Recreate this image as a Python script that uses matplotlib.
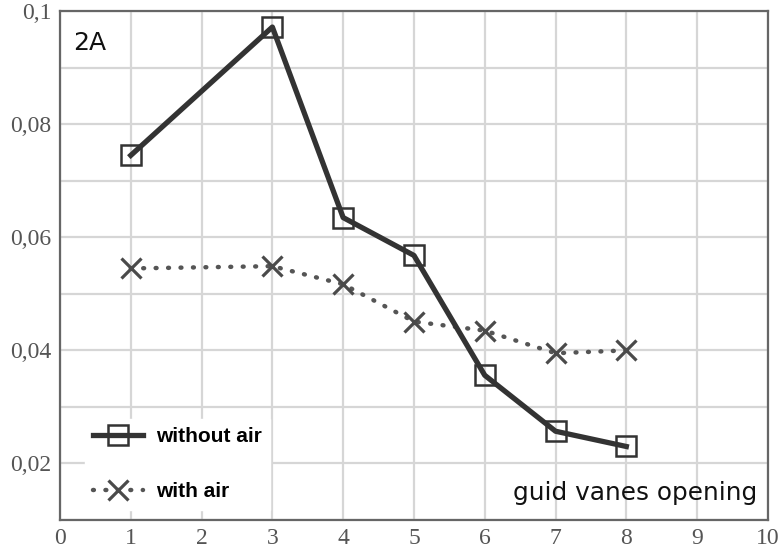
import matplotlib
matplotlib.use("Agg")
import matplotlib.pyplot as plt
from matplotlib.ticker import MultipleLocator, FuncFormatter

# guide vanes opening positions
x = [1, 3, 4, 5, 6, 7, 8]
without_air = [0.0745, 0.0972, 0.0635, 0.0568, 0.0356, 0.0257, 0.0230]
with_air = [0.0545, 0.0549, 0.0517, 0.0451, 0.0435, 0.0395, 0.0400]

fig = plt.figure(figsize=(7.82, 5.53), dpi=100)
ax = fig.add_axes([0.0767, 0.0597, 0.9053, 0.920])

ax.plot(x, with_air, color="#555555", lw=3.2, linestyle=(0, (0.2, 2.6)),
        dash_capstyle="round", marker="x", ms=15, mew=2.3, mec="#4a4a4a",
        label="with air", zorder=3)
ax.plot(x, without_air, color="#333333", lw=3.8, marker="s", ms=14.5,
        mfc="none", mec="#333333", mew=1.8, label="without air", zorder=4)

ax.set_xlim(0, 10)
ax.set_ylim(0.01, 0.1)
ax.xaxis.set_major_locator(MultipleLocator(1))
ax.yaxis.set_major_locator(MultipleLocator(0.02))
ax.yaxis.set_minor_locator(MultipleLocator(0.01))
ax.yaxis.set_major_formatter(FuncFormatter(lambda v, p: ("%g" % round(v, 3)).replace(".", ",")))
ax.grid(True, which="both", color="#d6d6d6", lw=1.6)
ax.set_axisbelow(True)
ax.tick_params(which="both", length=0, labelsize=17, colors="#555555", pad=6)
for lab in ax.get_xticklabels() + ax.get_yticklabels():
    lab.set_family("Liberation Serif")
for s in ax.spines.values():
    s.set_color("#666666")
    s.set_linewidth(1.6)

ax.text(0.018, 0.962, "2A", transform=ax.transAxes, fontsize=18,
        family="DejaVu Sans", va="top", ha="left", color="#111111")
ax.text(0.985, 0.04, "guid vanes opening", transform=ax.transAxes,
        fontsize=17.8, family="DejaVu Sans", va="baseline", ha="right",
        color="#111111")

h, l = ax.get_legend_handles_labels()
leg = ax.legend(h[::-1], l[::-1], loc="lower left", bbox_to_anchor=(0.035, 0.02),
                frameon=True, framealpha=1, edgecolor="white", fancybox=False,
                prop={"family": "Liberation Sans", "weight": "bold", "size": 15},
                handlelength=2.4, handletextpad=0.6, labelspacing=1.75,
                borderpad=0.4, borderaxespad=0)

fig.savefig("out.png", dpi=100)
